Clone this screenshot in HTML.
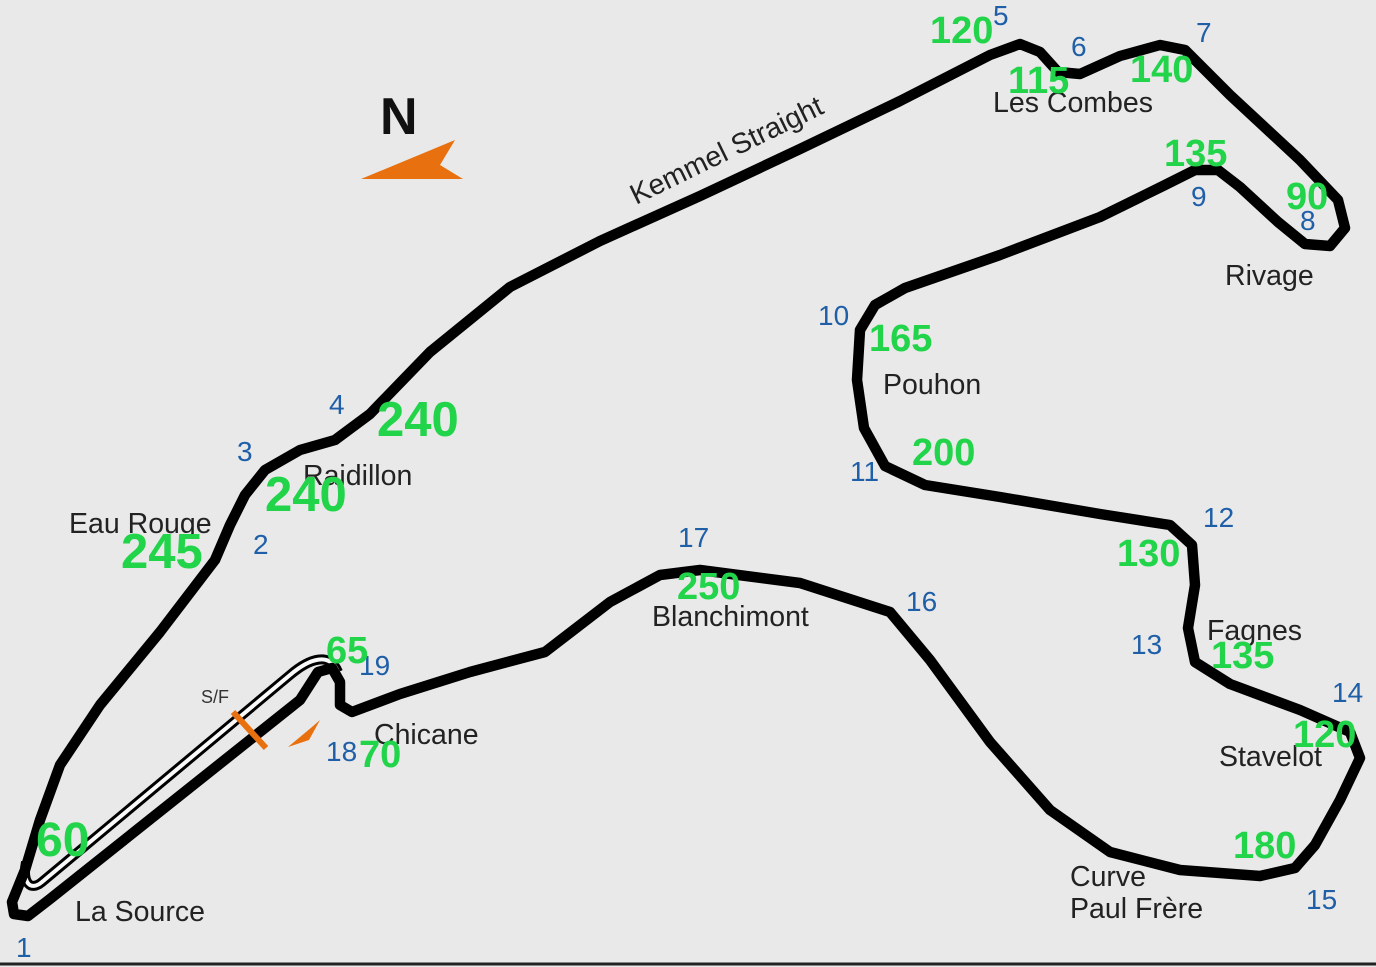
<!DOCTYPE html>
<html><head><meta charset="utf-8"><style>
html,body{margin:0;padding:0;background:#e9e9e9;}
svg{display:block}
.l{font-family:"Liberation Sans",sans-serif;font-size:28.5px;fill:#222}
.b{font-family:"Liberation Sans",sans-serif;font-size:28px;fill:#1f5fa8}
.g{font-family:"Liberation Sans",sans-serif;font-size:38px;font-weight:bold;fill:#22d44a}
</style></head><body>
<svg width="1376" height="967" viewBox="0 0 1376 967">
<rect width="1376" height="967" fill="#e9e9e9"/>
<line x1="0" y1="964" x2="1376" y2="964" stroke="#222" stroke-width="3"/>
<!-- pit lane -->
<path d="M338,672 C330,652 310,658 290,675 L42,882 C30,892 22,882 26,862" fill="none" stroke="#000" stroke-width="10" stroke-linejoin="round"/>
<path d="M338,672 C330,652 310,658 290,675 L42,882 C30,892 22,882 26,862" fill="none" stroke="#fafafa" stroke-width="4" stroke-linejoin="round"/>
<!-- main track -->
<polyline fill="none" stroke="#000" stroke-width="10.5" stroke-linejoin="round" stroke-linecap="round" points="
60,765 40,820 25,870 12,902 14,914 28,916 50,899 300,700 318,672 332,668 340,682 340,705 352,712 400,694 470,672 545,652 610,602 660,575 700,570 800,583 890,612 930,660 990,742 1050,810 1110,852 1180,870 1260,876 1295,868 1315,845 1340,800 1360,758 1350,732 1300,710 1230,684 1195,662 1188,628 1195,585 1192,545 1170,525 1100,514 1000,497 925,485 885,466 864,428 857,380 860,330 875,305 905,288 1000,255 1100,217 1165,185 1195,170 1218,170 1240,187 1278,222 1305,244 1330,246 1345,228 1338,200 1300,160 1230,95 1185,50 1160,45 1120,56 1080,74 1058,72 1040,52 1020,44 990,55 900,101 800,149 700,196 600,241 510,287 430,352 370,414 335,440 300,450 265,470 245,495 230,525 215,560 160,632 100,705 60,765"/>
<!-- S/F marker -->
<line x1="233" y1="712" x2="266" y2="748" stroke="#e8700e" stroke-width="6"/>
<polygon points="288,747 312,727 320,720 309,740" fill="#e8700e"/>
<!-- N arrow -->
<text x="380" y="134" font-family="Liberation Sans,sans-serif" font-size="52" font-weight="bold" fill="#111">N</text>
<polygon points="361,179 455,140 440,165 463,179" fill="#e8700e"/>
<!-- labels -->
<text class="l" x="636" y="205" transform="rotate(-26 636 205)">Kemmel Straight</text>
<text class="l" x="993" y="112">Les Combes</text>
<text class="l" x="1225" y="285">Rivage</text>
<text class="l" x="883" y="394">Pouhon</text>
<text class="l" x="1207" y="640">Fagnes</text>
<text class="l" x="1219" y="766">Stavelot</text>
<text class="l" x="1070" y="886">Curve</text>
<text class="l" x="1070" y="918">Paul Frère</text>
<text class="l" x="652" y="626">Blanchimont</text>
<text class="l" x="374" y="744">Chicane</text>
<text class="l" x="75" y="921">La Source</text>
<text class="l" x="69" y="533">Eau Rouge</text>
<text class="l" x="303" y="485">Raidillon</text>
<text x="201" y="703" font-family="Liberation Sans,sans-serif" font-size="18" fill="#333">S/F</text>
<!-- turn numbers -->
<text class="b" x="16" y="957">1</text>
<text class="b" x="253" y="554">2</text>
<text class="b" x="237" y="461">3</text>
<text class="b" x="329" y="414">4</text>
<text class="b" x="993" y="25">5</text>
<text class="b" x="1071" y="56">6</text>
<text class="b" x="1196" y="42">7</text>
<text class="b" x="1300" y="230">8</text>
<text class="b" x="1191" y="206">9</text>
<text class="b" x="818" y="325">10</text>
<text class="b" x="850" y="481">11</text>
<text class="b" x="1203" y="527">12</text>
<text class="b" x="1131" y="654">13</text>
<text class="b" x="1332" y="702">14</text>
<text class="b" x="1306" y="909">15</text>
<text class="b" x="906" y="611">16</text>
<text class="b" x="678" y="547">17</text>
<text class="b" x="326" y="761">18</text>
<text class="b" x="359" y="675">19</text>
<!-- speeds -->
<text class="g" x="930" y="43">120</text>
<text class="g" x="1008" y="93">115</text>
<text class="g" x="1130" y="82">140</text>
<text class="g" x="1164" y="166">135</text>
<text class="g" x="1286" y="209">90</text>
<text class="g" x="869" y="351">165</text>
<text class="g" x="912" y="465">200</text>
<text class="g" x="1117" y="566">130</text>
<text class="g" x="1211" y="668">135</text>
<text class="g" x="1293" y="747">120</text>
<text class="g" x="1233" y="858">180</text>
<text class="g" x="677" y="599">250</text>
<text class="g" x="326" y="663">65</text>
<text class="g" x="359" y="767">70</text>
<text class="g" x="36" y="856" style="font-size:48px">60</text>
<text class="g" x="121" y="568" style="font-size:49px">245</text>
<text class="g" x="265" y="511" style="font-size:49px">240</text>
<text class="g" x="377" y="436" style="font-size:49px">240</text>
</svg>
</body></html>
